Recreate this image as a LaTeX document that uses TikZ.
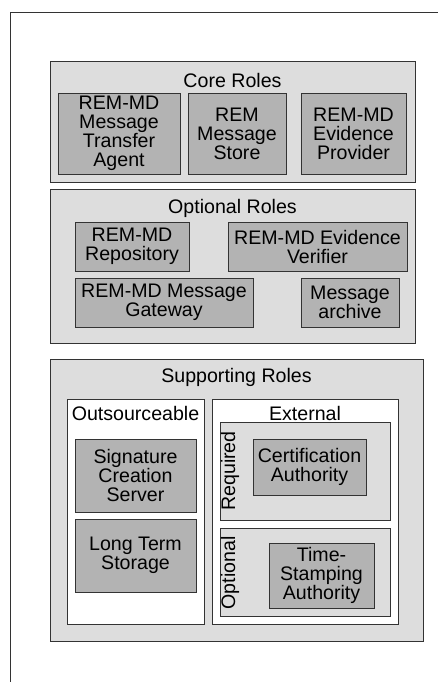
\documentclass[tikz,border=0pt]{standalone}
\usepackage{fontspec}
\setmainfont{Liberation Sans}
\definecolor{grpfill}{HTML}{DDDDDD}
\definecolor{rolefill}{HTML}{B3B3B3}
\definecolor{edge}{HTML}{333333}
\tikzset{
  every node/.style={font=\fontsize{19.6}{19}\selectfont,align=center,inner sep=0pt},
  sized/.style 2 args={minimum width=#1,minimum height=#2},
  group/.style={draw=edge,line width=0.9pt,fill=grpfill},
  holder/.style={draw=edge,line width=0.9pt,fill=white},
  role/.style={draw=edge,line width=0.9pt,fill=rolefill}
}
\begin{document}
\begin{tikzpicture}[x=1pt,y=-1pt]
\useasboundingbox (0,0) rectangle (438,682);
%frame
\draw[edge,line width=0.9pt](438,12)--(10,12)--(10,682);
%core roles
\node[group,sized={365}{121}](core) at (232.5,121.5){};
\node(coretitle) at (232.5,80){Core Roles};
\node[role,sized={122}{81}](mta) at (119,133.5){REM-MD\\Message\\Transfer\\Agent};
\node[role,sized={98}{81}](store) at (237,133.5){REM\\Message\\Store};
\node[role,sized={105}{81}](provider) at (353.5,133.5){REM-MD\\Evidence\\Provider};
%optional roles
\node[group,sized={365}{154}](optional) at (232.5,266){};
\node(opttitle) at (232.5,208){Optional Roles};
\node[role,sized={114}{49}](repo) at (132,246.5){REM-MD\\Repository};
\node[role,sized={179}{49}](verifier) at (317.5,246.5){REM-MD Evidence\\Verifier};
\node[role,sized={178}{49}](gateway) at (164,302.5){REM-MD Message\\Gateway};
\node[role,sized={98}{49}](archive) at (350,302.5){Message\\archive};
%supporting roles
\node[group,sized={373}{282}](supporting) at (236.5,500){};
\node(suptitle) at (236.5,377){Supporting Roles};
\node[holder,sized={137}{225}](outsrc) at (135.5,511.5){};
\node(outsrctitle) at (135.5,413){Outsourceable};
\node[role,sized={121}{73}](sigserver) at (135.5,475.5){Signature\\Creation\\Server};
\node[role,sized={121}{73}](storage) at (135.5,555.5){Long Term\\Storage};
\node[holder,sized={186}{225}](external) at (305,511.5){};
\node(exttitle) at (305,413){External};
\node[group,sized={170}{98}](required) at (305,471){};
\node[rotate=90](reqlabel) at (230,471){Required};
\node[role,sized={113}{56}](certauth) at (309.5,467){Certification\\Authority};
\node[group,sized={170}{88}](extopt) at (305,572){};
\node[rotate=90](optlabel) at (230,573){Optional};
\node[role,sized={105}{65}](tsa) at (321.5,575.5){Time-\\Stamping\\Authority};
\end{tikzpicture}
\end{document}
